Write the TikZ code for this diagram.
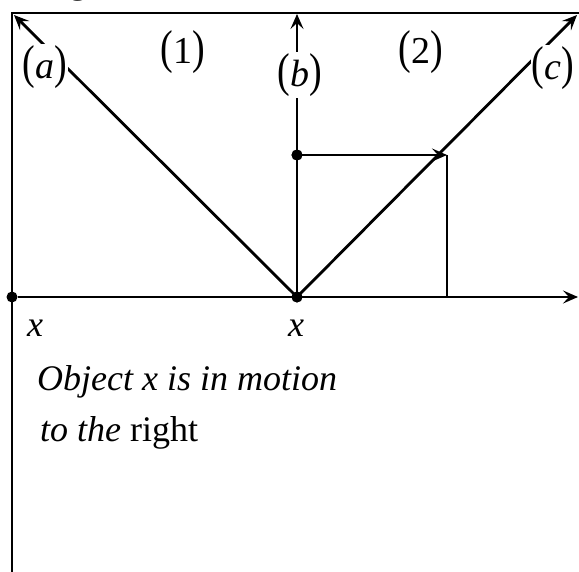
\documentclass[tikz,border=0pt]{standalone}
\usepackage{graphicx}
\usepackage{fontspec}
\setmainfont{Liberation Serif}
\usetikzlibrary{arrows.meta}
\newcommand\lpar{\scalebox{1}[1.25]{(}}
\newcommand\rpar{\scalebox{1}[1.25]{)}}
\begin{document}
\begin{tikzpicture}[x=1pt,y=-1pt,
  ln/.style={line width=2.8pt},
  thinln/.style={line width=2.2pt},
  tip/.style={-{Stealth[length=15pt,width=13pt,inset=6pt]}},
  dot/.style={circle,fill=black,inner sep=0pt,minimum size=11pt},
  lab/.style={fill=white,inner sep=1pt,font=\fontsize{38}{42}\selectfont},
  txt/.style={font=\fontsize{36}{40}\selectfont\itshape,anchor=base west,inner sep=0pt}]
\useasboundingbox (0,0) rectangle (579,572);
\clip (0,0) rectangle (579,572);
% coordinates
\coordinate (TL) at (12,13);
\coordinate (TR) at (579,13);
\coordinate (BL) at (12,572);
\coordinate (AXR) at (578,297);
\coordinate (A) at (14,15);
\coordinate (B) at (297,14);
\coordinate (C) at (577,15);
\coordinate (P) at (447,155);
\coordinate (Q) at (447,297);
\node[dot] (O1) at (12,297) {};
\node[dot] (O2) at (297,297) {};
\node[dot] (M) at (297,155) {};
% fragment of cut-off text above
\node[font=\fontsize{36}{40}\selectfont,anchor=base] (frag) at (78,-6) {g};
% frame lines
\draw[ln] (BL) -- (TL) -- (TR);
\draw[ln,tip] (O1) -- (AXR);
% motion lines
\draw[ln,tip] (O2.center) -- (A);
\draw[ln,tip] (O2.center) -- (B);
\draw[ln,tip] (O2.center) -- (C);
\draw[ln,tip] (M.center) -- (P);
\draw[thinln] (P) -- (Q);
\node[dot] at (O2) {};
\node[dot] at (M) {};
% labels
\node[lab] (la) at (45,67) {\lpar\textit{a}\rpar};
\node[lab,fill=none] (l1) at (183,52) {\lpar1\rpar};
\node[lab] (lb) at (300,75) {\lpar\textit{b}\rpar};
\node[lab,fill=none] (l2) at (421,52) {\lpar2\rpar};
\node[lab] (lc) at (553,68) {\lpar\textit{c}\rpar};
\node[txt] (x1) at (27,337) {x};
\node[txt] (x2) at (288,337) {x};
\node[txt] (t1) at (37,391) {Object x is in motion};
\node[txt] (t2) at (40,442) {to the \textup{right}};
\end{tikzpicture}
\end{document}
